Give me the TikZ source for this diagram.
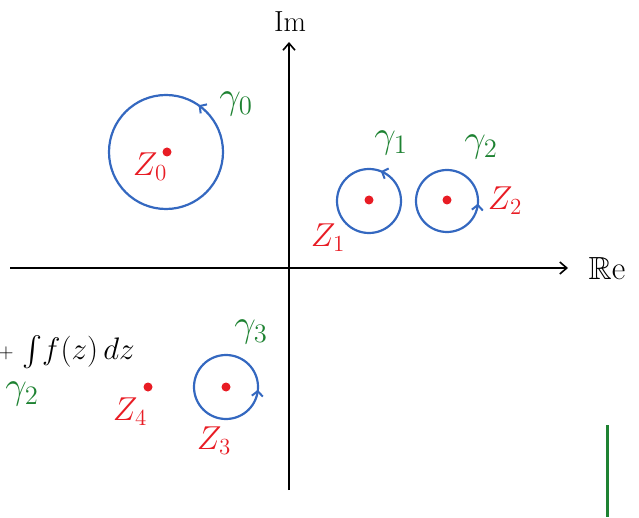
\documentclass[tikz,border=0pt]{standalone}
\usepackage{amssymb}
\usetikzlibrary{arrows.meta,decorations.markings}
\definecolor{cblue}{RGB}{52,104,192}
\definecolor{cred}{RGB}{232,28,36}
\definecolor{cgreen}{RGB}{30,130,50}
\newcommand{\bigtxt}[2]{\scalebox{#1}{\fontsize{20}{24}\selectfont #2}}
\begin{document}
\begin{tikzpicture}[x=1pt,y=1pt,
  axis/.style={line width=1.8pt,black,-{Straight Barb[length=7pt,width=12pt,line width=1.6pt]}},
  loop/.style={cblue,line width=2.2pt,postaction={decorate},
    decoration={markings,mark=at position #1 with {\arrow{Straight Barb[length=5pt,width=11pt,line width=2pt]}}}},
  pole/.style={circle,fill=cred,inner sep=0pt,minimum size=9pt},
  zlab/.style={text=cred,inner sep=0pt},
  glab/.style={text=cgreen,inner sep=0pt},
  axlab/.style={inner sep=0pt}]
\useasboundingbox (0,0) rectangle (639,517);
% axes
\coordinate (xs) at (10,249);
\coordinate (xe) at (568,249);
\coordinate (ys) at (289,27);
\coordinate (ye) at (289,475);
\draw[axis] (xs) -- (xe);
\draw[axis] (ys) -- (ye);
\node[axlab] (re) at (607,249) {\bigtxt{1.6}{$\mathbb{R}\mathrm{e}$}};
\node[axlab] (im) at (290,495) {\bigtxt{1.4}{$\mathrm{Im}$}};
% gamma 0
\coordinate (c0) at (166,365);
\draw[loop=0.153] (c0) circle (57);
\node[pole] (p0) at (167,365) {};
\node[zlab] (z0) at (150,350) {\bigtxt{1.6}{$Z_0$}};
\node[glab] (g0) at (236,413) {\bigtxt{1.85}{$\gamma_0$}};
% gamma 1
\coordinate (c1) at (369,316);
\draw[loop=0.19] (c1) circle (32);
\node[pole] (p1) at (369,317) {};
\node[zlab] (z1) at (328,279) {\bigtxt{1.6}{$Z_1$}};
\node[glab] (g1) at (391,374) {\bigtxt{1.85}{$\gamma_1$}};
% gamma 2
\coordinate (c2) at (447,316);
\draw[loop=0.986] (c2) circle (31);
\node[pole] (p2) at (447,317) {};
\node[zlab] (z2) at (505,316) {\bigtxt{1.6}{$Z_2$}};
\node[glab] (g2) at (481,370) {\bigtxt{1.85}{$\gamma_2$}};
% gamma 3
\coordinate (c3) at (226,130);
\draw[loop=0.986] (c3) circle (32);
\node[pole] (p3) at (226,130) {};
\node[zlab] (z3) at (214,76) {\bigtxt{1.6}{$Z_3$}};
\node[glab] (g3) at (251,185) {\bigtxt{1.85}{$\gamma_3$}};
% z4
\node[pole] (p4) at (148,130) {};
\node[zlab] (z4) at (130,105) {\bigtxt{1.6}{$Z_4$}};
% integral
\node[axlab] (plus) at (6,164) {\bigtxt{1.0}{$+$}};
\node[axlab,anchor=west] (int) at (22,165) {\bigtxt{1.5}{$\int\! f(z)\,dz$}};
\node[glab] (gi) at (22,123) {\bigtxt{1.85}{$\gamma_2$}};
% green stroke
\coordinate (ga) at (607,92);
\coordinate (gb) at (607,0);
\draw[cgreen,line width=3pt] (ga) -- (gb);
\end{tikzpicture}
\end{document}
